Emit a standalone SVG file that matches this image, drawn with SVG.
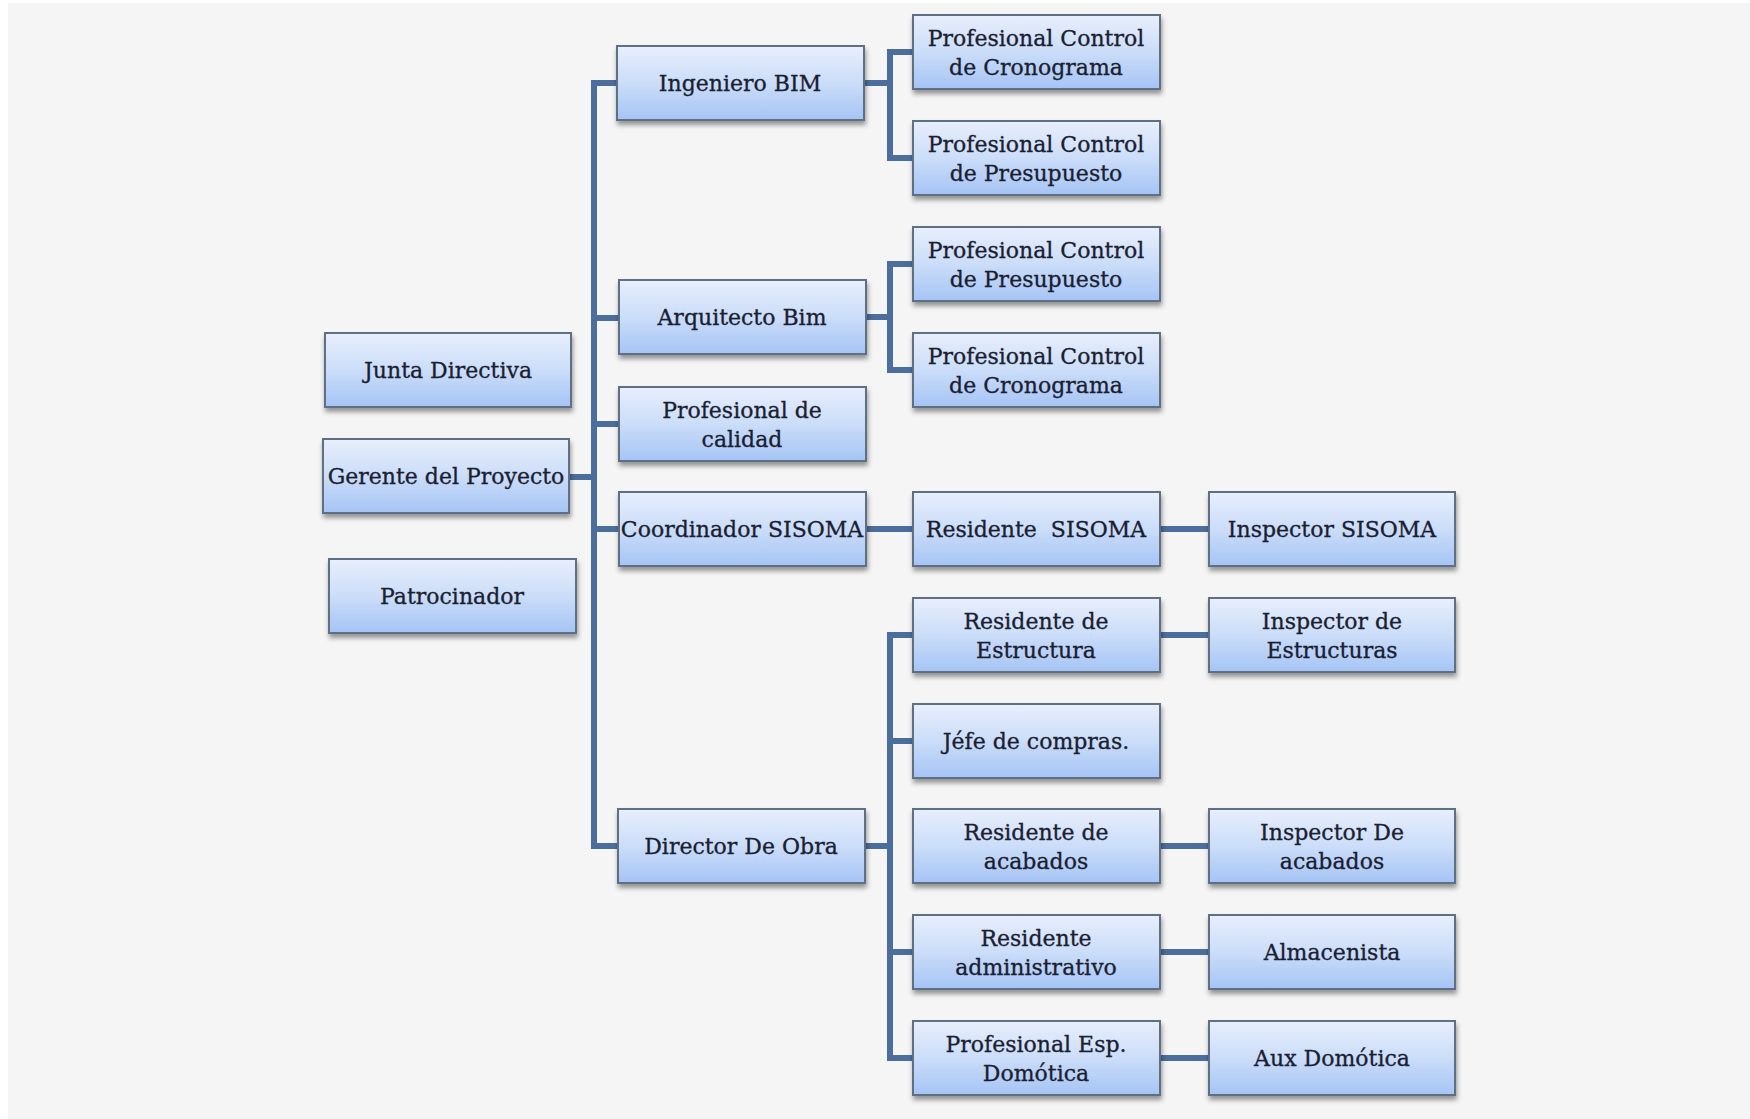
<svg xmlns="http://www.w3.org/2000/svg" width="1750" height="1119" viewBox="0 0 1750 1119">
  <defs>
    <linearGradient id="boxFill" x1="0" y1="0" x2="0" y2="1">
      <stop offset="0" stop-color="#e8effc"/>
      <stop offset="0.5" stop-color="#cbddf9"/>
      <stop offset="1" stop-color="#a5c4f5"/>
    </linearGradient>
    <filter id="shadow" x="-10%" y="-20%" width="120%" height="150%">
      <feDropShadow dx="1" dy="4" stdDeviation="2.5" flood-color="#000" flood-opacity="0.4"/>
    </filter>
    <style>
      .box { fill: url(#boxFill); stroke: #5f6f84; stroke-width: 2; filter: url(#shadow); }
      .lbl { font-family: "DejaVu Serif", "Liberation Serif", serif; font-size: 22px; fill: #1a2030; stroke: #1a2030; stroke-width: 0.3; text-anchor: middle; }
      .conn { fill: none; stroke: #4b6e9c; stroke-width: 6; stroke-linejoin: miter; stroke-linecap: butt; }
    </style>
  </defs>
  <rect x="0" y="0" width="1750" height="1119" fill="#ffffff"/>
  <rect x="8" y="3" width="1742" height="1116" fill="#f5f5f5"/>

  <g id="connectors">
    <path class="conn" d="M618,83 H594 V846 H618"/>
    <path class="conn" d="M569,477 H594"/>
    <path class="conn" d="M594,318 H618 M594,424 H618 M594,529 H618"/>
    <path class="conn" d="M864,83 H890 M913,52 H890 V158 H913"/>
    <path class="conn" d="M865,317 H890 M913,264 H890 V370 H913"/>
    <path class="conn" d="M865,529 H913 M1160,529 H1209"/>
    <path class="conn" d="M865,846 H890 M913,635 H890 V1058 H913 M890,741 H913 M890,952 H913"/>
    <path class="conn" d="M1160,635 H1209 M1160,846 H1209 M1160,952 H1209 M1160,1058 H1209"/>
  </g>

  <g id="junta-directiva"><rect class="box" x="325" y="333" width="246" height="74"/><text class="lbl" x="448" y="378">Junta Directiva</text></g>
  <g id="gerente-proyecto"><rect class="box" x="323" y="439" width="246" height="74"/><text class="lbl" x="446" y="484">Gerente del Proyecto</text></g>
  <g id="patrocinador"><rect class="box" x="329" y="559" width="247" height="74"/><text class="lbl" x="452" y="604">Patrocinador</text></g>

  <g id="ingeniero-bim"><rect class="box" x="617" y="46" width="247" height="74"/><text class="lbl" x="740" y="91">Ingeniero BIM</text></g>
  <g id="arquitecto-bim"><rect class="box" x="619" y="280" width="247" height="74"/><text class="lbl" x="742" y="325">Arquitecto Bim</text></g>
  <g id="profesional-calidad"><rect class="box" x="619" y="387" width="247" height="74"/><text class="lbl" x="742" y="418">Profesional de</text><text class="lbl" x="742" y="446.5">calidad</text></g>
  <g id="coordinador-sisoma"><rect class="box" x="619" y="492" width="247" height="74"/><text class="lbl" x="742" y="537">Coordinador SISOMA</text></g>
  <g id="director-obra"><rect class="box" x="618" y="809" width="247" height="74"/><text class="lbl" x="741" y="854">Director De Obra</text></g>

  <g id="pc-cronograma-1"><rect class="box" x="913" y="15" width="247" height="74"/><text class="lbl" x="1036" y="46">Profesional Control</text><text class="lbl" x="1036" y="74.5">de Cronograma</text></g>
  <g id="pc-presupuesto-1"><rect class="box" x="913" y="121" width="247" height="74"/><text class="lbl" x="1036" y="152">Profesional Control</text><text class="lbl" x="1036" y="180.5">de Presupuesto</text></g>
  <g id="pc-presupuesto-2"><rect class="box" x="913" y="227" width="247" height="74"/><text class="lbl" x="1036" y="258">Profesional Control</text><text class="lbl" x="1036" y="286.5">de Presupuesto</text></g>
  <g id="pc-cronograma-2"><rect class="box" x="913" y="333" width="247" height="74"/><text class="lbl" x="1036" y="364">Profesional Control</text><text class="lbl" x="1036" y="392.5">de Cronograma</text></g>
  <g id="residente-sisoma"><rect class="box" x="913" y="492" width="247" height="74"/><text class="lbl" x="1036" y="537" xml:space="preserve">Residente  SISOMA</text></g>
  <g id="residente-estructura"><rect class="box" x="913" y="598" width="247" height="74"/><text class="lbl" x="1036" y="629">Residente de</text><text class="lbl" x="1036" y="657.5">Estructura</text></g>
  <g id="jefe-compras"><rect class="box" x="913" y="704" width="247" height="74"/><text class="lbl" x="1036" y="749">Jéfe de compras.</text></g>
  <g id="residente-acabados"><rect class="box" x="913" y="809" width="247" height="74"/><text class="lbl" x="1036" y="840">Residente de</text><text class="lbl" x="1036" y="868.5">acabados</text></g>
  <g id="residente-administrativo"><rect class="box" x="913" y="915" width="247" height="74"/><text class="lbl" x="1036" y="946">Residente</text><text class="lbl" x="1036" y="974.5">administrativo</text></g>
  <g id="profesional-domotica"><rect class="box" x="913" y="1021" width="247" height="74"/><text class="lbl" x="1036" y="1052">Profesional Esp.</text><text class="lbl" x="1036" y="1080.5">Domótica</text></g>

  <g id="inspector-sisoma"><rect class="box" x="1209" y="492" width="246" height="74"/><text class="lbl" x="1332" y="537">Inspector SISOMA</text></g>
  <g id="inspector-estructuras"><rect class="box" x="1209" y="598" width="246" height="74"/><text class="lbl" x="1332" y="629">Inspector de</text><text class="lbl" x="1332" y="657.5">Estructuras</text></g>
  <g id="inspector-acabados"><rect class="box" x="1209" y="809" width="246" height="74"/><text class="lbl" x="1332" y="840">Inspector De</text><text class="lbl" x="1332" y="868.5">acabados</text></g>
  <g id="almacenista"><rect class="box" x="1209" y="915" width="246" height="74"/><text class="lbl" x="1332" y="960">Almacenista</text></g>
  <g id="aux-domotica"><rect class="box" x="1209" y="1021" width="246" height="74"/><text class="lbl" x="1332" y="1066">Aux Domótica</text></g>
</svg>
